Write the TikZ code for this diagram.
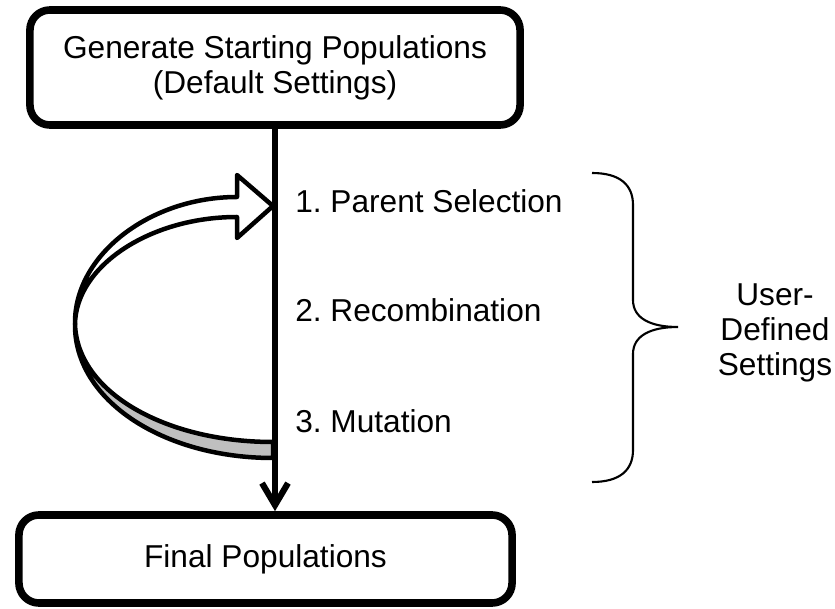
\documentclass[tikz,border=0pt]{standalone}
\usepackage{fontspec}
\setmainfont{Liberation Sans}
\usetikzlibrary{arrows.meta,shadows}

\begin{document}
\begin{tikzpicture}[x=0.025cm,y=-0.025cm,every node/.style={font=\fontsize{22.5}{25}\selectfont\frenchspacing}]
  \tikzstyle{box}=[draw,rounded corners=0.5cm,line width=5.4pt,fill=white,
    drop shadow={opacity=0.25,shadow xshift=1.5pt,shadow yshift=-1.5pt}]
  \tikzstyle{item}=[anchor=base west,inner sep=0pt]
  \tikzstyle{ribbon}=[line width=3.2pt,line join=round]
  \useasboundingbox (0,0) rectangle (835,609);
  \node[box,minimum width=12.25cm,minimum height=2.875cm,align=center] at (275,67.5) (start)
    {Generate Starting Populations\\(Default Settings)};
  \node[box,minimum width=12.325cm,minimum height=2.2cm] at (265.5,559) (final) {Final Populations};
  \foreach \i/\y/\t in {1/213/Parent Selection,2/322/Recombination,3/432/Mutation}
    {\node[item] at (295,\y) (s\i) {\i. \t};}
  % loop back arrow
  \filldraw[ribbon,fill=white] (237,175) -- (273,206) -- (237,238) -- (237,217)
    .. controls (150,217) and (76,266) .. (75,324)
    .. controls (74,255) and (150,197) .. (237,197) -- cycle;
  \filldraw[ribbon,fill=black!25] (75,324) .. controls (74,400) and (163,458) .. (273,458)
    -- (273,442) .. controls (165,442) and (77,392) .. (75,324) -- cycle;
  \draw[line width=4.4pt,-{Straight Barb[length=5.5mm,width=6.5mm]}] (start.south) -- (start.south |- final.north);
  % brace
  \coordinate (tip) at (678,327);
  \draw[line width=1.5pt] (592,173) .. controls (620,173) and (633,185) .. (633,205) -- (633,300)
    .. controls (633,318) and (650,327) .. (tip)
    .. controls (650,327) and (633,336) .. (633,354) -- (633,450)
    .. controls (633,470) and (620,482) .. (592,482);
  \node[align=center] at (775,333) (user) {User-\\Defined\\Settings};
\end{tikzpicture}
\end{document}
